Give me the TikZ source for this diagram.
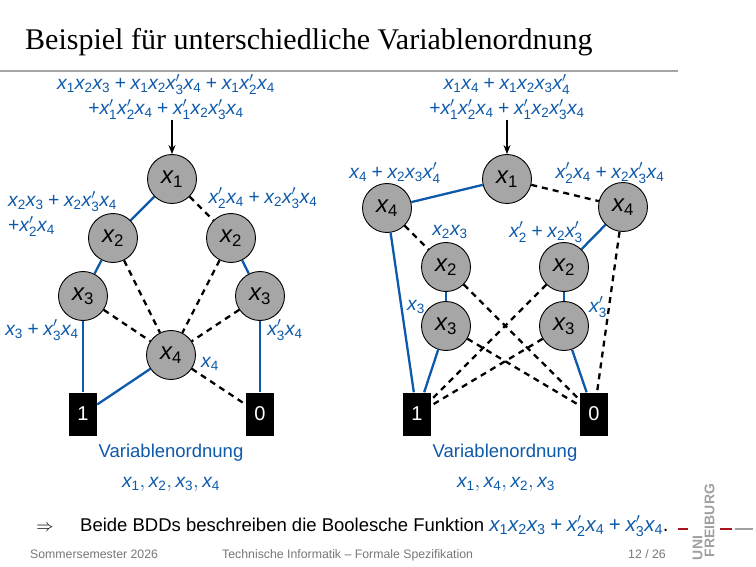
\documentclass[tikz,border=0pt]{standalone}
\usepackage{amsmath}
\usepackage{fontspec}
\setmainfont{Liberation Sans}
\newfontfamily\seriffont{Liberation Serif}
\usetikzlibrary{arrows.meta}
\definecolor{ublue}{RGB}{14,90,170}
\definecolor{vgray}{RGB}{166,166,166}
\definecolor{rulegray}{RGB}{165,165,165}
\definecolor{footgray}{RGB}{120,120,120}
\definecolor{logogray}{RGB}{160,160,160}
\definecolor{logored}{RGB}{170,20,30}
\newcommand\X[1]{\textit{x}_{\text{#1}}}
\newcommand\Xp[1]{\textit{x}^{\prime}_{\text{#1}}}
\newcommand\pl{\mathbin{\text{+}}}
\tikzset{
  var/.style={circle, draw=black, line width=0.9pt, fill=vgray, minimum size=49pt, inner sep=0pt, font=\fontsize{24}{24}\selectfont},
  term/.style={rectangle, fill=black, minimum width=28pt, minimum height=43pt, inner sep=0pt, text=white, font=\fontsize{20}{20}\selectfont},
  hi/.style={draw=ublue, line width=2.3pt},
  lo/.style={draw=black, line width=2.3pt, dash pattern=on 6pt off 5pt},
  lbl/.style={text=ublue, font=\fontsize{19.3}{25}\selectfont, inner sep=0pt},
  word/.style={text=ublue, font=\fontsize{18.5}{22}\selectfont, inner sep=0pt},
  arr/.style={draw=black, line width=1.2pt, -{Stealth[length=9pt,width=7pt]}},
  foot/.style={text=footgray, font=\fontsize{12.3}{14}\selectfont, inner sep=0pt, anchor=base west},
  logo/.style={text=logogray, font=\bfseries\fontsize{14}{14}\selectfont, inner sep=0pt, rotate=90},
}
\begin{document}
\begin{tikzpicture}[x=1pt,y=-1pt]
\useasboundingbox (0,0) rectangle (756,567);
\fill[white] (0,0) rectangle (756,567);
% title
\node[anchor=base west, inner sep=0pt, font=\seriffont\fontsize{30}{31}\selectfont] (title) at (25,50) {Beispiel für unterschiedliche Variablenordnung};
\draw[rulegray, line width=2.5pt] (0,71) -- (678,71);

% ---------- left BDD
\node[var] (La) at (172,179) {$\X1$};
\node[var] (Lb) at (113,238) {$\X2$};
\node[var] (Lc) at (231,238) {$\X2$};
\node[var] (Ld) at (83,296) {$\X3$};
\node[var] (Le) at (260,296) {$\X3$};
\node[var] (Lf) at (171,355) {$\X4$};
\node[term] (Lone) at (83,414) {1};
\node[term] (Lzero) at (260,414) {0};
\draw[hi] (La) -- (Lb); \draw[lo] (La) -- (Lc);
\draw[hi] (Lb) -- (Ld); \draw[lo] (Lb) -- (Lf);
\draw[hi] (Lc) -- (Le); \draw[lo] (Lc) -- (Lf);
\draw[hi] (Ld) -- (Lone); \draw[lo] (Ld) -- (Lf);
\draw[hi] (Le) -- (Lzero); \draw[lo] (Le) -- (Lf);
\draw[hi] (Lf) -- (Lone); \draw[lo] (Lf) -- (Lzero);
\coordinate (Ltop) at (172,120);
\draw[arr] (Ltop) -- (La);
\node[lbl, align=center] (Lfun) at (166,97) {$\X1\X2\X3\pl\X1\X2\Xp3\X4\pl\X1\Xp2\X4$\\$\pl\Xp1\Xp2\X4\pl\Xp1\X2\Xp3\X4$};
\node[lbl, align=left, anchor=west] (Lbl) at (8,214) {$\X2\X3\pl\X2\Xp3\X4$\\$\pl\Xp2\X4$};
\node[lbl] (Lcl) at (263,198) {$\Xp2\X4\pl\X2\Xp3\X4$};
\node[lbl] (Ldl) at (42,330) {$\X3\pl\Xp3\X4$};
\node[lbl] (Lel) at (285,330) {$\Xp3\X4$};
\node[lbl] (Lfl) at (210,364) {$\X4$};
\node[word] (Lord) at (171,453) {Variablenordnung};
\node[lbl] (Lvars) at (171,484) {$\X1,\X2,\X3,\X4$};

% ---------- right BDD
\node[var] (Ra) at (507,179) {$\X1$};
\node[var] (Rb) at (387,208) {$\X4$};
\node[var] (Rc) at (623,207) {$\X4$};
\node[var] (Rd) at (446,267) {$\X2$};
\node[var] (Re) at (564,267) {$\X2$};
\node[var] (Rf) at (446,326) {$\X3$};
\node[var] (Rg) at (564,326) {$\X3$};
\node[term] (Rone) at (417,414) {1};
\node[term] (Rzero) at (594,414) {0};
\draw[hi] (Ra) -- (Rb); \draw[lo] (Ra) -- (Rc);
\draw[hi] (Rb) -- (Rone); \draw[lo] (Rb) -- (Rd);
\draw[hi] (Rc) -- (Re); \draw[lo] (Rc) -- (Rzero);
\draw[hi] (Rd) -- (Rf); \draw[lo] (Rd) -- (Rzero);
\draw[hi] (Re) -- (Rg); \draw[lo] (Re) -- (Rone);
\draw[hi] (Rf) -- (Rone); \draw[lo] (Rf) -- (Rzero);
\draw[hi] (Rg) -- (Rzero); \draw[lo] (Rg) -- (Rone);
\coordinate (Rtop) at (507,120);
\draw[arr] (Rtop) -- (Ra);
\node[lbl, align=center] (Rfun) at (507,97) {$\X1\X4\pl\X1\X2\X3\Xp4$\\$\pl\Xp1\Xp2\X4\pl\Xp1\X2\Xp3\X4$};
\node[lbl] (Rbl) at (395,173) {$\X4\pl\X2\X3\Xp4$};
\node[lbl] (Rcl) at (610,173) {$\Xp2\X4\pl\X2\Xp3\X4$};
\node[lbl] (Rdl) at (450,232) {$\X2\X3$};
\node[lbl] (Rel) at (546,232) {$\Xp2\pl\X2\Xp3$};
\node[lbl] (Rfl) at (416,307) {$\X3$};
\node[lbl] (Rgl) at (598,307) {$\Xp3$};
\node[word] (Rord) at (505,453) {Variablenordnung};
\node[lbl] (Rvars) at (506,484) {$\X1,\X4,\X2,\X3$};

% ---------- bottom text
\node[inner sep=0pt, anchor=base, font=\fontsize{18.5}{20}\selectfont] (impl) at (45,531) {$\Rightarrow$};
\node[inner sep=0pt, anchor=base west, font=\fontsize{18.5}{20}\selectfont] (concl) at (80,531) {Beide BDDs beschreiben die Boolesche Funktion {\fontsize{20.5}{22}\selectfont\textcolor{ublue}{$\X1\X2\X3\pl\Xp2\X4\pl\Xp3\X4$}.}};

% ---------- footer
\node[foot] (f1) at (30,558) {Sommersemester 2026};
\node[foot] (f2) at (222,558) {Technische Informatik -- Formale Spezifikation};
\node[foot, anchor=base east] (f3) at (666,558) {12 / 26};

% ---------- logo
\node[logo] (uni) at (697.5,548) {UNI};
\node[logo] (frei) at (709.5,520.5) {FREIBURG};
\draw[logored, line width=2.5pt] (678,529) -- (688,529);
\draw[logored, line width=2.5pt] (720,529) -- (732,529);
\draw[logogray, line width=2.5pt] (735,529) -- (753,529);
\end{tikzpicture}
\end{document}
